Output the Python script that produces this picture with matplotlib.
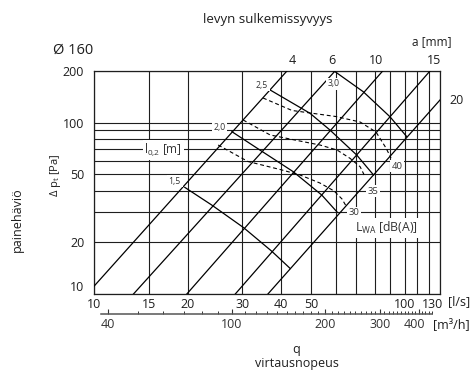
import matplotlib
matplotlib.use('Agg')
import matplotlib.pyplot as plt
from matplotlib.ticker import FixedLocator, NullFormatter, NullLocator
import matplotlib.transforms as mtransforms

FONT = 'Open Sans'
plt.rcParams['font.family'] = [FONT, 'DejaVu Sans']
plt.rcParams['mathtext.fontset'] = 'custom'
plt.rcParams['mathtext.rm'] = FONT
plt.rcParams['mathtext.it'] = FONT
plt.rcParams['mathtext.bf'] = FONT

# ---------------- data ----------------
x_grid = [10, 15, 20, 30, 40, 50, 60, 70, 80, 90, 100, 110, 120, 130]
x_labels = ['10', '15', '20', '30', '40', '50', '', '', '', '', '100', '', '', '130']
y_grid = [10, 20, 30, 40, 50, 60, 70, 80, 90, 100, 200]
y_labels = ['10', '20', '', '', '50', '', '', '', '', '100', '200']

m3h_major = [40, 100, 200, 300, 400]
m3h_minor = [50, 60, 70, 80, 90, 110, 120, 130, 140, 150, 160, 170, 180, 190,
             210, 220, 230, 240, 250, 260, 270, 280, 290, 310, 320, 330, 340,
             350, 360, 370, 380, 390, 410, 420, 430, 440]

# damper depth lines a [mm]: start / end points (q [l/s], dp [Pa])
a_values = ['4', '6', '10', '15', '20']
a_q_start = [10.0, 13.4, 19.9, 28.5, 36.3]
a_p_start = [11.1, 10.0, 10.0, 10.0, 10.0]
a_q_end = [41.8, 59.7, 85.0, 120.7, 130.0]
a_p_end = [200.0, 200.0, 200.0, 200.0, 135.5]

# throw l0,2 [m] curves
throw_labels = ['1,5', '2,0', '2,5', '3,0']
throw_q = [[19.6, 23.9, 30.3, 37.3, 42.8],
           [27.8, 34.2, 43.8, 54.1, 60.8],
           [36.9, 49.6, 57.5, 70.1, 79.4],
           [59.3, 73.6, 89.7, 101.6]]
throw_p = [[41.9, 33.1, 24.4, 17.8, 14.1],
           [88.5, 69.2, 51.7, 37.8, 29.9],
           [155.0, 113.3, 90.5, 64.7, 49.5],
           [200.0, 151.4, 108.2, 82.8]]

# sound power level LWA [dB(A)] curves
lwa_labels = ['30', '35', '40']
lwa_q = [[25.1, 31.3, 40.3, 46.0, 53.4, 59.3, 62.9, 64.8],
         [30.2, 36.9, 47.1, 53.4, 60.6, 66.7, 71.9, 74.6],
         [35.0, 43.4, 60.1, 71.9, 80.9, 87.1, 90.4]]
lwa_p = [[74.0, 59.3, 52.9, 49.5, 44.4, 39.9, 35.8, 32.6],
         [103.6, 84.7, 77.4, 74.0, 69.2, 61.9, 55.3, 48.3],
         [139.2, 117.7, 108.5, 100.8, 88.1, 71.1, 62.2]]

# ---------------- figure ----------------
W, H = 477, 372
fig = plt.figure(figsize=(W / 100, H / 100), dpi=100)
L, R, T, B = 94, 440, 71, 294
ax = fig.add_axes([L / W, 1 - B / H, (R - L) / W, (B - T) / H])
ax.set_xscale('log')
ax.set_yscale('log')
ax.set_xlim(10, 130)
ax.set_ylim(10, 200)

LC = '#1e1e1e'
ax.set_xticks(x_grid)
ax.set_xticklabels(x_labels)
ax.set_yticks(y_grid)
ax.set_yticklabels(y_labels)
ax.xaxis.set_minor_locator(NullLocator())
ax.yaxis.set_minor_locator(NullLocator())
ax.tick_params(length=0, labelsize=9, colors='#1e1e1e')
ax.tick_params(axis='x', pad=3)
ax.tick_params(axis='y', pad=7)
ax.grid(True, color=LC, lw=0.8)
for s in ax.spines.values():
    s.set_color(LC)
    s.set_linewidth(0.9)

def shift(lbl, dx, dy):
    lbl.set_transform(lbl.get_transform() +
                      mtransforms.ScaledTranslation(dx / 100, dy / 100, fig.dpi_scale_trans))

for lbl in ax.get_yticklabels():
    if lbl.get_text() == '10':
        shift(lbl, 0, 8)
for lbl in ax.get_xticklabels():
    if lbl.get_text() == '130':
        shift(lbl, -7, 0)

for i in range(len(a_values)):
    ax.plot([a_q_start[i], a_q_end[i]], [a_p_start[i], a_p_end[i]],
            color='black', lw=0.9, zorder=3)

for i in range(len(throw_labels)):
    ax.plot(throw_q[i], throw_p[i], color='black', lw=0.9, zorder=3)

for i in range(len(lwa_labels)):
    ax.plot(lwa_q[i], lwa_p[i], color='black', lw=0.8, ls=(0, (3.5, 2.5)), zorder=3)

box = dict(facecolor='white', edgecolor='none', pad=1.2)
def dlabel(q, p, s, size=6.2, **kw):
    ax.text(q, p, s, fontsize=size, ha='center', va='center', color='#333',
            bbox=box, zorder=6, **kw)

dlabel(34.7, 165.7, throw_labels[2])
dlabel(59.0, 168.0, throw_labels[3])
dlabel(25.4, 93.0, throw_labels[1])
dlabel(18.2, 45.5, throw_labels[0])
dlabel(94.5, 55.8, lwa_labels[2], size=6.8)
dlabel(79.1, 39.8, lwa_labels[1], size=6.8)
dlabel(68.7, 29.8, lwa_labels[0], size=6.8)
dlabel(16.7, 69.3, r'l$_{\mathrm{0{,}2}}$ [m]', size=8.5)
dlabel(87.1, 24.3, r'L$_{\mathrm{WA}}$ [dB(A)]', size=8.8)

# ---------------- secondary m3/h axis ----------------
ax2 = fig.add_axes([L / W, 1 - 314 / H, (R - L) / W, 0.03])
ax2.set_xscale('log')
ax2.set_xlim(36, 468)
ax2.patch.set_visible(False)
for k in ['top', 'left', 'right']:
    ax2.spines[k].set_visible(False)
ax2.spines['bottom'].set_bounds(38, 440)
ax2.spines['bottom'].set_color('#555')
ax2.spines['bottom'].set_linewidth(1.1)
ax2.set_yticks([])
ax2.xaxis.set_major_locator(FixedLocator(m3h_major))
ax2.set_xticklabels([str(v) for v in m3h_major])
ax2.xaxis.set_minor_locator(FixedLocator(m3h_minor))
ax2.xaxis.set_minor_formatter(NullFormatter())
ax2.tick_params(axis='x', which='major', direction='in', length=3.5, width=0.8,
                colors='#333', labelsize=9, pad=3)
ax2.tick_params(axis='x', which='minor', direction='in', length=2.2, width=0.7,
                colors='#333')
for lbl in ax2.get_xticklabels():
    if lbl.get_text() == '400':
        shift(lbl, -4, 0)

# ---------------- texts ----------------
def ftext(px, py, s, size=9, **kw):
    fig.text(px / W, 1 - py / H, s, fontsize=size, ha='center', va='center',
             color='#1e1e1e', **kw)

ftext(268, 20, 'levyn sulkemissyvyys', size=9.5)
ftext(432, 42, 'a [mm]', size=8.5)
ftext(73, 50, 'Ø 160', size=10.5)
for s, px, py in zip(a_values, [292, 332, 376, 434, 457], [60, 60, 60, 60, 101]):
    ftext(px, py, s, size=9)
ftext(459, 302, '[l/s]', size=9)
ftext(451, 325, '[m³/h]', size=9)
ftext(17, 220, 'painehäviö', size=9, rotation=90)
ftext(56, 175, r'$\Delta$ p$_{\mathrm{t}}$ [Pa]', size=8, rotation=90)
ftext(296, 349, 'q', size=9)
ftext(297, 364, 'virtausnopeus', size=9)

fig.savefig('out.png', dpi=100)
